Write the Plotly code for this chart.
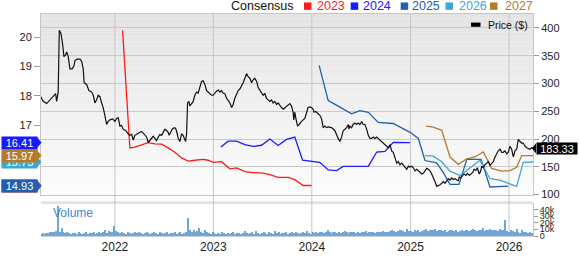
import numpy as np
import pandas as pd
import plotly.graph_objects as go

# ---------------- data ----------------
price_t = (
    [2021.239, 2021.272, 2021.307, 2021.340, 2021.374, 2021.398, 2021.408, 2021.424, 2021.435, 2021.452,
     2021.469, 2021.482, 2021.499, 2021.510, 2021.526, 2021.543, 2021.566, 2021.584, 2021.594, 2021.617,
     2021.645, 2021.662, 2021.678, 2021.688, 2021.713, 2021.736, 2021.763, 2021.780, 2021.797, 2021.814,
     2021.830, 2021.848, 2021.865, 2021.881, 2021.898, 2021.916, 2021.932, 2021.949, 2021.977, 2022.000,
     2022.017, 2022.034, 2022.051, 2022.068, 2022.084, 2022.112, 2022.135, 2022.152, 2022.170, 2022.186,
     2022.203, 2022.220, 2022.237]
    + [2022.271, 2022.305, 2022.322, 2022.338, 2022.373, 2022.389, 2022.406, 2022.423, 2022.440, 2022.457,
       2022.474, 2022.490, 2022.508, 2022.525, 2022.541, 2022.551, 2022.569, 2022.582, 2022.602, 2022.616,
       2022.629, 2022.643, 2022.660, 2022.677, 2022.693, 2022.711, 2022.718, 2022.728, 2022.738, 2022.751,
       2022.761, 2022.779, 2022.795, 2022.812, 2022.829, 2022.846, 2022.863, 2022.880, 2022.896, 2022.914,
       2022.931, 2022.947, 2022.964, 2022.982, 2022.998, 2023.015, 2023.032, 2023.049, 2023.066, 2023.083,
       2023.099, 2023.117, 2023.134, 2023.150]
    + [2023.168, 2023.185, 2023.201, 2023.218, 2023.236, 2023.252, 2023.269, 2023.286, 2023.303, 2023.320,
       2023.337, 2023.353, 2023.371, 2023.388, 2023.404, 2023.421, 2023.439, 2023.455, 2023.472, 2023.489,
       2023.506, 2023.523, 2023.540, 2023.556, 2023.574, 2023.591, 2023.607, 2023.624, 2023.642, 2023.658,
       2023.675, 2023.692, 2023.709, 2023.726, 2023.743, 2023.759, 2023.777, 2023.794, 2023.810, 2023.817,
       2023.827, 2023.835, 2023.845, 2023.855, 2023.871, 2023.895, 2023.929, 2023.946, 2023.962, 2023.980,
       2023.997, 2024.013, 2024.023, 2024.041, 2024.064, 2024.081, 2024.098]
    + [2024.115, 2024.132, 2024.149, 2024.166, 2024.200, 2024.234, 2024.251, 2024.267, 2024.284, 2024.302,
       2024.318, 2024.335, 2024.352, 2024.369, 2024.376, 2024.386, 2024.403, 2024.419, 2024.437, 2024.454,
       2024.470, 2024.487, 2024.505, 2024.521, 2024.538, 2024.555, 2024.572, 2024.589, 2024.606, 2024.622,
       2024.640, 2024.657, 2024.673, 2024.690, 2024.708, 2024.724, 2024.741, 2024.758, 2024.775, 2024.792,
       2024.809, 2024.825, 2024.843, 2024.860, 2024.876, 2024.893, 2024.911, 2024.927, 2024.944, 2024.961,
       2024.978, 2024.995, 2025.012, 2025.028, 2025.046, 2025.063, 2025.079, 2025.096, 2025.114, 2025.130,
       2025.147, 2025.164, 2025.181, 2025.198, 2025.215]
    + [2025.231, 2025.249, 2025.266, 2025.282, 2025.299, 2025.317, 2025.333, 2025.350, 2025.368, 2025.384,
       2025.401, 2025.418, 2025.435, 2025.452, 2025.469, 2025.485, 2025.495, 2025.510, 2025.530, 2025.543,
       2025.563, 2025.577, 2025.597, 2025.611, 2025.632, 2025.645, 2025.665, 2025.678, 2025.688, 2025.698,
       2025.713, 2025.723, 2025.739, 2025.756, 2025.774, 2025.790, 2025.807, 2025.824, 2025.841, 2025.858,
       2025.875, 2025.891, 2025.909, 2025.926, 2025.942, 2025.959, 2025.977, 2025.993, 2026.010, 2026.027,
       2026.044, 2026.061, 2026.078, 2026.094, 2026.112, 2026.129, 2026.145, 2026.162, 2026.180, 2026.196,
       2026.213, 2026.230, 2026.247]
)
price = (
    [278.8, 267.8, 263.8, 270.5, 278.8, 281.7, 267.8, 284.5, 395.5, 390,
     370.5, 348.3, 351.2, 356.7, 348.3, 326.2, 326.2, 331.7, 341.2, 343.8,
     343.8, 340, 326.2, 301.2, 298.3, 287.2, 284.5, 278.8, 265, 270.5,
     278.8, 276.2, 265, 256.7, 242.8, 226.2, 231.7, 234.5, 236.2, 231.7,
     237.2, 238.3, 223.3, 224.5, 217.8, 215, 209.5, 206.7, 208.3, 198.3,
     206.7, 209.5, 210.5]
    + [213.8, 208.3, 203.8, 193.8, 201.2, 205, 201.2, 197.2, 203.8, 208.3,
       206.7, 212.2, 217.8, 215, 212.2, 206.7, 213.8, 217.8, 220.5, 219.5,
       212.2, 201.2, 195.5, 209.5, 206.7, 198.3, 195.5, 209.5, 265, 267.8,
       259.5, 263.8, 267.8, 278.8, 284.5, 282.8, 295.5, 303.8, 305, 298.3,
       287.2, 284.5, 281.7, 278.8, 278.8, 282.8, 286.2, 288.3, 284.5, 287.2,
       282.8, 281.7, 273.3, 269.5]
    + [265, 256.7, 262.2, 273.3, 281.7, 287.2, 290, 295.5, 301.2, 309.5,
       317.8, 312.2, 309.5, 301.2, 306.7, 309.5, 303.8, 292.8, 287.2, 281.7,
       278.8, 281.7, 273.3, 270.5, 267.8, 270.5, 265, 267.8, 262.2, 265,
       259.5, 256.7, 253.8, 256.7, 259.5, 262.2, 263.8, 259.5, 248.3, 234.5,
       248.3, 240, 231.7, 223.3, 226.2, 231.7, 237.2, 248.3, 256.7, 257.8,
       256.7, 253.8, 248.3, 249.5, 245.5, 242.8, 237.2]
    + [220.5, 223.3, 220.5, 221.7, 220.5, 215, 206.7, 201.2, 195.5, 203.8,
       215, 217.8, 220.5, 226.2, 217.8, 223.3, 220.5, 226.2, 228.8, 226.2,
       228.8, 226.2, 231.7, 226.2, 226.2, 217.8, 206.7, 201.2, 201.2, 203.8,
       201.2, 203.8, 201.2, 196.7, 195.5, 192.8, 190, 187.2, 184.5, 190,
       178.8, 176.2, 167.8, 156.7, 159.5, 153.8, 156.7, 153.8, 149.5, 145.5,
       151.2, 149.5, 151.2, 148.3, 142.8, 145.5, 142.8, 140, 137.2, 138.3,
       142.8, 147.2, 145.5, 142.8, 137.2]
    + [131.7, 123.3, 115, 116.2, 117.8, 120.5, 123.3, 120.5, 126.2, 128.8,
       126.2, 130, 127.2, 128.8, 126.2, 125, 131.7, 130.5, 134.5, 137.2,
       134.5, 138.3, 134.5, 137.2, 140, 145.5, 143.8, 148.3, 142.8, 137.2,
       142.8, 151.2, 148.3, 153.8, 156.7, 159.5, 152.8, 156.7, 159.5, 167.8,
       175, 178.8, 181.7, 176.2, 176.2, 178.8, 173.3, 176.2, 187.2, 181.7,
       168, 178.8, 181.7, 199.5, 195.5, 192.8, 192.8, 187.2, 184.5, 182.8,
       181.7, 184.5, 183.33]
)

eps2023_t = [2022.078, 2022.152, 2022.203, 2022.338, 2022.406, 2022.474, 2022.541, 2022.609, 2022.677, 2022.744,
             2022.812, 2022.896, 2022.947, 2022.998, 2023.083, 2023.117, 2023.168, 2023.236, 2023.269, 2023.320,
             2023.404, 2023.506, 2023.574, 2023.658, 2023.759, 2023.827, 2023.912, 2023.997]
eps2023 = [20.23, 16.23, 16.26, 16.41, 16.37, 16.36, 16.23, 16.08, 15.89, 15.78,
           15.81, 15.84, 15.81, 15.74, 15.76, 15.65, 15.52, 15.55, 15.49, 15.42,
           15.39, 15.37, 15.32, 15.23, 15.23, 15.15, 14.95, 14.95]

eps2024_t = [2023.076, 2023.150, 2023.236, 2023.320, 2023.404, 2023.489, 2023.574, 2023.658, 2023.743, 2023.827,
             2023.906, 2023.997, 2024.081, 2024.166, 2024.251, 2024.318, 2024.403, 2024.572, 2024.657, 2024.741,
             2024.825, 2024.911, 2024.995]
eps2024 = [16.26, 16.46, 16.46, 16.34, 16.28, 16.32, 16.53, 16.31, 16.52, 16.60,
           15.81, 15.78, 15.74, 15.48, 15.46, 15.60, 15.60, 15.60, 16.09, 16.11,
           16.42, 16.42, 16.41]

eps2025_t = [2024.074, 2024.166, 2024.267, 2024.403, 2024.487, 2024.572, 2024.673, 2024.825, 2024.995, 2025.079,
             2025.147, 2025.266, 2025.333, 2025.401, 2025.492, 2025.571, 2025.716, 2025.807, 2025.993]
eps2025 = [19.04, 17.84, 17.65, 17.39, 17.50, 17.44, 17.10, 17.06, 16.76, 16.55,
           15.80, 15.72, 15.39, 14.99, 14.99, 15.84, 15.84, 14.90, 14.93]

eps2026_t = [2025.147, 2025.231, 2025.317, 2025.401, 2025.503, 2025.604, 2025.706, 2025.807, 2025.909, 2025.993,
             2026.078, 2026.145, 2026.247]
eps2026 = [15.97, 15.95, 15.76, 15.44, 15.29, 15.55, 15.81, 15.18, 15.13, 15.02,
           14.92, 15.74, 15.75]

eps2027_t = [2025.157, 2025.231, 2025.317, 2025.401, 2025.485, 2025.571, 2025.655, 2025.739, 2025.824, 2025.926,
             2026.010, 2026.078, 2026.129, 2026.247]
eps2027 = [16.97, 16.94, 16.83, 15.92, 15.67, 15.86, 15.92, 16.09, 15.53, 15.44,
           15.46, 15.57, 15.97, 15.97]

# weekly volume (thousands), first week ending 2021-04-02
volume_start = "2021-04-02"
volume = (
    [4, 5, 4, 5, 5, 6, 7, 6, 8, 45, 7, 12, 6, 5, 6, 5, 4, 5, 5, 4,
     6, 5, 4, 5, 6, 4, 5, 5, 6, 4, 5, 7, 5, 6, 9, 5, 8, 6, 6, 15]
    + [8, 6, 5, 6, 5, 4, 6, 5, 4, 5, 6, 5, 7, 5, 4, 5, 6, 5, 4, 5,
       6, 5, 4, 6, 5, 4, 5, 6, 4, 5, 5, 6, 4, 5, 6, 4, 5, 6, 28, 9,
       7, 9, 6, 8, 12, 7, 5, 10, 6, 5, 4, 6]
    + [5, 4, 5, 4, 6, 5, 4, 5, 4, 5, 6, 4, 5, 5, 4, 5, 8, 5, 4, 5,
       6, 4, 8, 5, 4, 5, 6, 5, 4, 6, 5, 4, 8, 5, 6, 4, 5, 5, 6, 4,
       5, 6, 5, 7, 5, 4, 5, 6, 5, 8, 5, 4]
    + [6, 5, 6, 5, 7, 6, 5, 6, 9, 6, 5, 6, 7, 5, 6, 5, 6, 8, 6, 5,
       6, 7, 6, 5, 6, 5, 7, 6, 8, 5, 6, 7, 6, 5, 6, 7, 6, 8, 7, 6,
       7, 8, 9, 8, 7, 8, 10, 9, 8, 7, 11, 8]
    + [8, 7, 9, 8, 10, 7, 8, 9, 11, 8, 9, 10, 9, 11, 8, 9, 10, 8, 9, 7,
       8, 9, 10, 8, 9, 7, 8, 9, 8, 10, 9, 8, 10, 11, 9, 8, 10, 9, 12, 8,
       9, 10, 11, 9, 10, 9, 8, 11, 10, 9, 25, 8]
    + [7, 10, 8, 6, 11, 7, 5, 9, 6, 7, 5, 6, 5]
)

years = [2022, 2023, 2024, 2025, 2026]
price_ticks = [100, 150, 200, 250, 300, 350, 400]
eps_ticks = [17, 18, 19, 20]
vol_ticks = [0, 10, 20, 30, 40]
vol_ticktext = ["0", "10k", "20k", "30k", "40k"]

series = [
    ("2023", eps2023_t, eps2023, "#ff1a1a"),
    ("2024", eps2024_t, eps2024, "#1a1aff"),
    ("2025", eps2025_t, eps2025, "#2160b0"),
    ("2026", eps2026_t, eps2026, "#3fa6d6"),
    ("2027", eps2027_t, eps2027, "#b27c2c"),
]

# ---------------- helpers ----------------
def yr2date(t):
    y = int(np.floor(t))
    s = pd.Timestamp(year=y, month=1, day=1)
    e = pd.Timestamp(year=y + 1, month=1, day=1)
    return s + (e - s) * (t - y)

W, H = 579, 264
ML, MR, MT, MB = 41, 46, 14, 10
PW, PH = W - ML - MR, H - MT - MB

def px_x(px):
    return (px - ML) / PW

def px_y(py):
    return (H - MB - py) / PH

FONT = "Liberation Sans, Arial, sans-serif"
EPS_RANGE = [14.617, 20.787]
PRICE_RANGE = [98.8, 425]
main_dom = [px_y(210), 1.0]
vol_dom = [0.0, px_y(218)]
eps_per_px = (EPS_RANGE[1] - EPS_RANGE[0]) / (210 - 14)
price_per_px = (PRICE_RANGE[1] - PRICE_RANGE[0]) / (210 - 14)

fig = go.Figure()

# volume
vol_dates = pd.date_range(volume_start, periods=len(volume), freq="7D")
fig.add_trace(go.Bar(x=vol_dates, y=volume, xaxis="x2", yaxis="y3",
                     marker=dict(color="#6ea6da", line=dict(width=0)),
                     width=5.5 * 86400000, showlegend=False))

# consensus lines
for name, tt, vv, col in series:
    fig.add_trace(go.Scatter(x=[yr2date(t) for t in tt], y=vv, mode="lines",
                             line=dict(color=col, width=1.3), xaxis="x", yaxis="y",
                             showlegend=False))

# price
fig.add_trace(go.Scatter(x=[yr2date(t) for t in price_t], y=price, mode="lines",
                         line=dict(color="#111111", width=1.2), xaxis="x", yaxis="y2",
                         showlegend=False))

shapes = []
annots = []

# gradient background for main pane
n = 40
y0p, y1p = main_dom
for i in range(n):
    f = i / (n - 1)
    c = int(round(252 - (252 - 228) * f))
    shapes.append(dict(type="rect", xref="paper", yref="paper", x0=0, x1=1,
                       y0=y0p + (y1p - y0p) * i / n, y1=y0p + (y1p - y0p) * (i + 1) / n,
                       fillcolor=f"rgb({c},{c},{c})", line=dict(width=0), layer="below"))

# band at top of volume pane
shapes.append(dict(type="rect", xref="paper", yref="paper", x0=0, x1=1,
                   y0=px_y(219.5), y1=px_y(216.5), fillcolor="#e2e2e2",
                   line=dict(width=0), layer="below"))

# vertical year grid lines spanning both panes
for yv in years:
    shapes.append(dict(type="line", xref="x", yref="paper", x0=f"{yv}-01-01", x1=f"{yv}-01-01",
                       y0=0, y1=1, line=dict(color="#c6c6c6", width=1), layer="below"))

# left value labels (last consensus values)
label_order = [0, 2, 3, 4, 1]
for idx in label_order:
    name, tt, vv, col = series[idx]
    v = vv[-1]
    dh = 6 * eps_per_px
    shapes.append(dict(type="path", xref="paper", yref="y",
                       path=f"M {px_x(37)},{v + dh} L {px_x(41.5)},{v} L {px_x(37)},{v - dh} Z",
                       fillcolor=col, line=dict(width=0), layer="above"))
    annots.append(dict(xref="paper", yref="y", x=px_x(37.5), y=v, xanchor="right", yanchor="middle",
                       text=f"{v:.2f}", showarrow=False, bgcolor=col, width=33, height=10,
                       borderpad=1, font=dict(family=FONT, size=11, color="white")))

# last price label
last = price[-1]
dhp = 5.5 * price_per_px
shapes.append(dict(type="path", xref="paper", yref="y2",
                   path=f"M {px_x(536)},{last + dhp} L {px_x(532)},{last} L {px_x(536)},{last - dhp} Z",
                   fillcolor="#000000", line=dict(width=0), layer="above"))
annots.append(dict(xref="paper", yref="y2", x=px_x(535.5), y=last, xanchor="left", yanchor="middle",
                   text=f"{last:.2f}", showarrow=False, bgcolor="#000000", width=38, height=9,
                   borderpad=1, font=dict(family=FONT, size=11, color="white")))

# top legend
legend_y = px_y(5)
annots.append(dict(xref="paper", yref="paper", x=px_x(229), y=legend_y, xanchor="left", yanchor="middle",
                   text="Consensus", showarrow=False, font=dict(family=FONT, size=12.5, color="#111111")))
leg_pos = [(304, 314.5), (350.7, 360.5), (400.7, 410), (445.5, 456.5), (490, 502.5)]
for (sx, tx), (name, tt, vv, col) in zip(leg_pos, series):
    shapes.append(dict(type="rect", xref="paper", yref="paper", x0=px_x(sx), x1=px_x(sx + 7.5),
                       y0=px_y(9.5), y1=px_y(1.5), fillcolor=col, line=dict(width=0), layer="above"))
    annots.append(dict(xref="paper", yref="paper", x=px_x(tx), y=legend_y, xanchor="left", yanchor="middle",
                       text=name, showarrow=False, font=dict(family=FONT, size=12.5, color=col)))

# price legend inside plot
shapes.append(dict(type="rect", xref="paper", yref="paper", x0=px_x(471), x1=px_x(480.5),
                   y0=px_y(27.8), y1=px_y(23.3), fillcolor="#000000", line=dict(width=0), layer="above"))
annots.append(dict(xref="paper", yref="paper", x=px_x(485.5), y=px_y(25.8), xanchor="left", yanchor="middle",
                   text="Price ($)", showarrow=False, font=dict(family=FONT, size=10.5, color="#111111")))

# volume label
annots.append(dict(xref="paper", yref="paper", x=px_x(50.5), y=px_y(229), xanchor="left", yanchor="middle",
                   text="Volume", showarrow=False, font=dict(family=FONT, size=12, color="#3d8bd0")))

axis_font = dict(family=FONT, size=11, color="#222222")
fig.update_layout(
    width=W, height=H,
    margin=dict(l=ML, r=MR, t=MT, b=MB, pad=0),
    paper_bgcolor="white", plot_bgcolor="rgba(0,0,0,0)",
    showlegend=False, bargap=0,
    shapes=shapes, annotations=annots,
    xaxis=dict(domain=[0, 1], anchor="y", type="date", range=["2021-04-02", "2026-03-31"],
               showticklabels=False, showgrid=False, zeroline=False, ticks="",
               showline=True, mirror=True, linecolor="#c6c6c6", linewidth=1),
    yaxis=dict(domain=main_dom, anchor="x", range=EPS_RANGE, side="left",
               tickvals=eps_ticks, ticks="outside", ticklen=6, tickcolor="#999999",
               showgrid=False, zeroline=False, showline=True, mirror=False,
               linecolor="#c6c6c6", tickfont=axis_font),
    yaxis2=dict(overlaying="y", anchor="x", side="right", range=PRICE_RANGE,
                tickvals=price_ticks, ticks="outside", ticklen=5, tickcolor="#999999",
                showgrid=True, gridcolor="#c9c9c9", gridwidth=1, zeroline=False,
                showline=True, linecolor="#c6c6c6", tickfont=axis_font),
    xaxis2=dict(domain=[0, 1], anchor="y3", matches="x", type="date",
                tickvals=[f"{y}-01-01" for y in years], ticktext=[str(y) for y in years],
                ticks="", showgrid=False, zeroline=False, showline=True, mirror=False,
                linecolor="#d0d0d0", tickfont=dict(family=FONT, size=12, color="#222222")),
    yaxis3=dict(domain=vol_dom, anchor="x2", side="right", range=[0, 50],
                tickvals=vol_ticks, ticktext=vol_ticktext, ticks="outside", ticklen=4,
                tickcolor="#999999", showgrid=False, zeroline=False, showline=True,
                linecolor="#c6c6c6", tickfont=dict(family=FONT, size=9, color="#222222")),
)

fig.write_html("out.html")
